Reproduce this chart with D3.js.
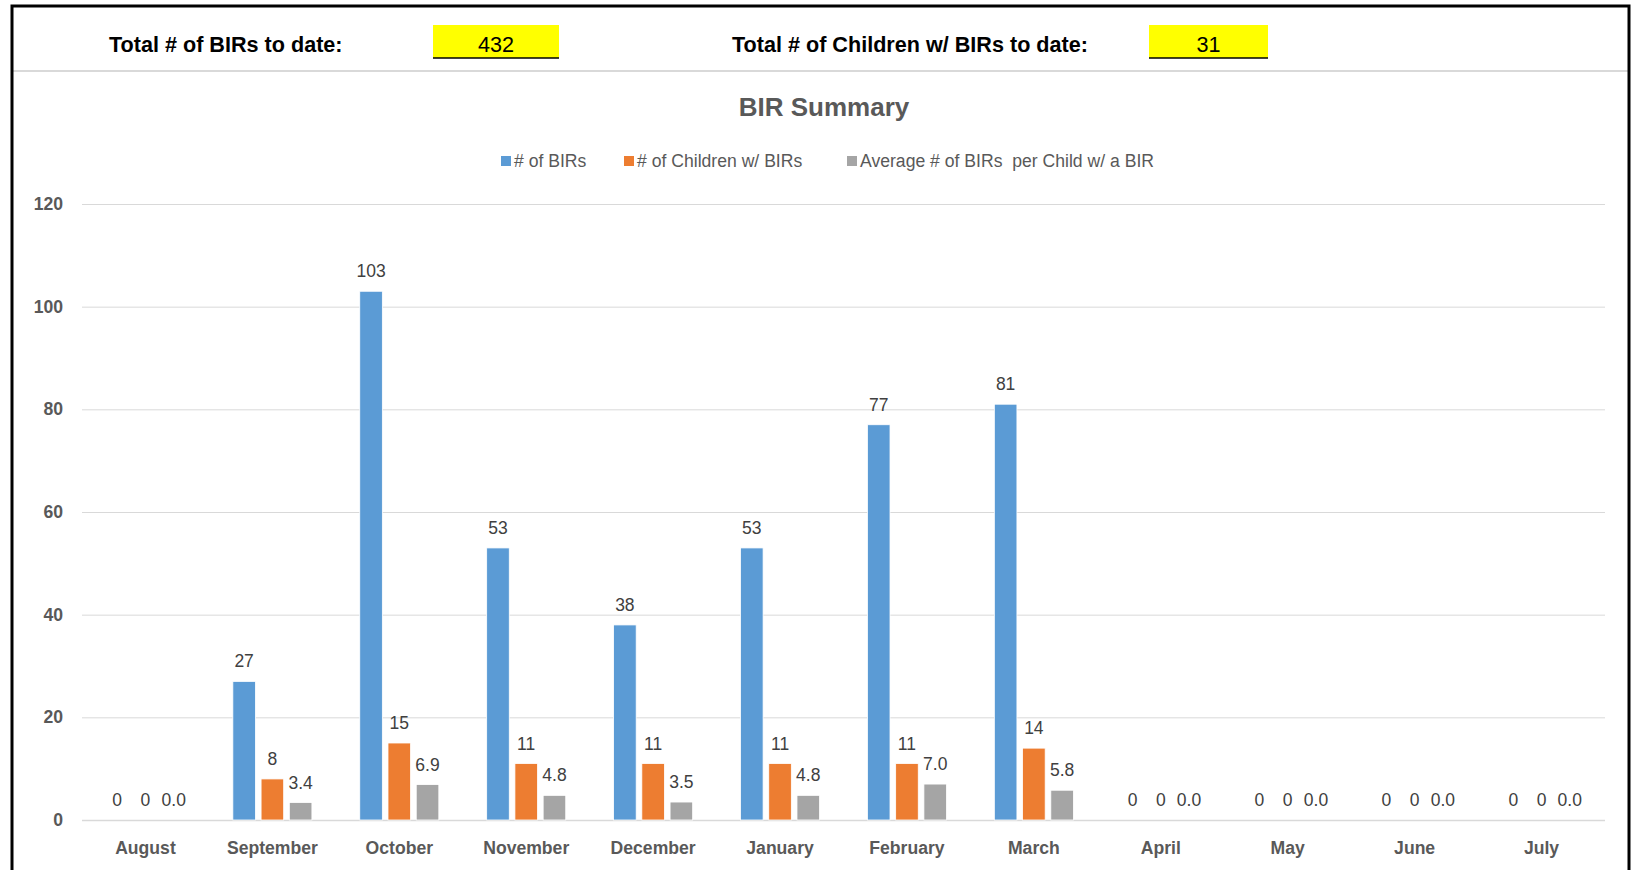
<!DOCTYPE html>
<html>
<head>
<meta charset="utf-8">
<script src="https://cdn.jsdelivr.net/npm/d3@7"></script>
<style>
  html, body { margin: 0; padding: 0; background: #fff; }
  svg { display: block; font-family: "Liberation Sans", Arial, sans-serif; }
</style>
</head>
<body>
<div id="chart"></div>
<script>
var months = ["August", "September", "October", "November", "December", "January",
              "February", "March", "April", "May", "June", "July"];
var seriesNames = ["# of BIRs", "# of Children w/ BIRs", "Average # of BIRs  per Child w/ a BIR"];
var birs = [0, 27, 103, 53, 38, 53, 77, 81, 0, 0, 0, 0];
var children = [0, 8, 15, 11, 11, 11, 11, 14, 0, 0, 0, 0];
var averages = [0, 3.4, 6.9, 4.8, 3.5, 4.8, 7.0, 5.8, 0, 0, 0, 0];
var yTicks = [0, 20, 40, 60, 80, 100, 120];
var totalBirs = 432;
var totalChildren = 31;

var colors = ["#5b9bd5", "#ed7d31", "#a5a5a5"];
var width = 1633, height = 870;

var svg = d3.select("#chart").append("svg")
    .attr("width", width)
    .attr("height", height);

// header block
svg.append("line")
    .attr("x1", 13).attr("x2", 1628)
    .attr("y1", 71).attr("y2", 71)
    .attr("stroke", "#d9d9d9")
    .attr("stroke-width", 2);

var header = [
  {label: "Total # of BIRs to date:", lx: 109, bx: 433, bw: 126, value: totalBirs},
  {label: "Total # of Children w/ BIRs to date:", lx: 732, bx: 1149, bw: 119, value: totalChildren}
];

header.forEach(function(h){
  svg.append("text")
      .attr("x", h.lx).attr("y", 52)
      .attr("font-size", 21.6)
      .attr("font-weight", "bold")
      .attr("fill", "#000")
      .text(h.label);
  svg.append("rect")
      .attr("x", h.bx).attr("y", 25)
      .attr("width", h.bw).attr("height", 33)
      .attr("fill", "#ffff00");
  svg.append("line")
      .attr("x1", h.bx).attr("x2", h.bx + h.bw)
      .attr("y1", 58).attr("y2", 58)
      .attr("stroke", "#000").attr("stroke-width", 1.5);
  svg.append("text")
      .attr("x", h.bx + h.bw / 2).attr("y", 52)
      .attr("text-anchor", "middle")
      .attr("font-size", 21.6)
      .attr("fill", "#000")
      .text(h.value);
});

// title
svg.append("text")
    .attr("x", 824).attr("y", 116)
    .attr("text-anchor", "middle")
    .attr("font-size", 26)
    .attr("font-weight", "bold")
    .attr("fill", "#595959")
    .text("BIR Summary");

// legend
var legendX = [501, 624, 847];
var legend = svg.selectAll(".legend")
    .data(seriesNames)
    .enter().append("g")
    .attr("class", "legend")
    .attr("transform", function(d, i){ return "translate(" + legendX[i] + ",161)"; });
legend.append("rect")
    .attr("x", 0).attr("y", -5)
    .attr("width", 10).attr("height", 10)
    .attr("fill", function(d, i){ return colors[i]; });
legend.append("text")
    .attr("x", 13).attr("y", 6)
    .attr("font-size", 17.6)
    .attr("fill", "#595959")
    .style("white-space", "pre")
    .text(function(d){ return d; });

// scales
var x0 = d3.scaleBand()
    .domain(months)
    .range([82, 1605])
    .paddingInner(0.377)
    .paddingOuter(0.1885);

var x1 = d3.scaleBand()
    .domain([0, 1, 2])
    .range([0, x0.bandwidth()])
    .paddingInner(0.2);

var y = d3.scaleLinear()
    .domain([0, 120])
    .range([820, 204]);

// gridlines + y labels
var yAxis = d3.axisLeft(y)
    .tickValues(yTicks)
    .tickSize(-(1605 - 82))
    .tickPadding(19);

var yAxisGroup = svg.append("g")
    .attr("transform", "translate(82,0)")
    .call(yAxis);
yAxisGroup.select(".domain").remove();
yAxisGroup.selectAll(".tick line")
    .attr("stroke", "#d9d9d9")
    .attr("stroke-width", function(d){ return d === 0 ? 1.5 : 1; });
yAxisGroup.selectAll(".tick text")
    .attr("font-size", 17.6)
    .attr("font-weight", "bold")
    .attr("font-family", "\"Liberation Sans\", Arial, sans-serif")
    .attr("fill", "#595959");

// x labels
var xAxis = d3.axisBottom(x0).tickSize(0).tickPadding(22);
var xAxisGroup = svg.append("g")
    .attr("transform", "translate(0,820)")
    .call(xAxis);
xAxisGroup.select(".domain").remove();
xAxisGroup.selectAll(".tick text")
    .attr("font-size", 17.6)
    .attr("font-weight", "bold")
    .attr("font-family", "\"Liberation Sans\", Arial, sans-serif")
    .attr("fill", "#595959");

// bars
var rows = months.map(function(m, i){
  return {month: m, values: [birs[i], children[i], averages[i]]};
});

var groups = svg.selectAll(".month")
    .data(rows)
    .enter().append("g")
    .attr("class", "month")
    .attr("transform", function(d){ return "translate(" + x0(d.month) + ",0)"; });

groups.selectAll("rect")
    .data(function(d){ return d.values; })
    .enter().append("rect")
    .attr("x", function(d, i){ return x1(i); })
    .attr("y", function(d){ return y(d); })
    .attr("width", x1.bandwidth())
    .attr("height", function(d){ return y(0) - y(d); })
    .attr("fill", function(d, i){ return colors[i]; })
    .attr("stroke", "#fff")
    .attr("stroke-width", 0.8);

groups.selectAll("text")
    .data(function(d){ return d.values; })
    .enter().append("text")
    .attr("x", function(d, i){ return x1(i) + x1.bandwidth() / 2; })
    .attr("y", function(d){ return y(d) - 14; })
    .attr("text-anchor", "middle")
    .attr("font-size", 17.5)
    .attr("fill", "#404040")
    .text(function(d, i){ return i === 2 ? d3.format(".1f")(d) : d; });

// outer frame
svg.append("rect")
    .attr("x", 12).attr("y", 6)
    .attr("width", 1617).attr("height", 900)
    .attr("fill", "none")
    .attr("stroke", "#000")
    .attr("stroke-width", 3);
</script>
</body>
</html>
